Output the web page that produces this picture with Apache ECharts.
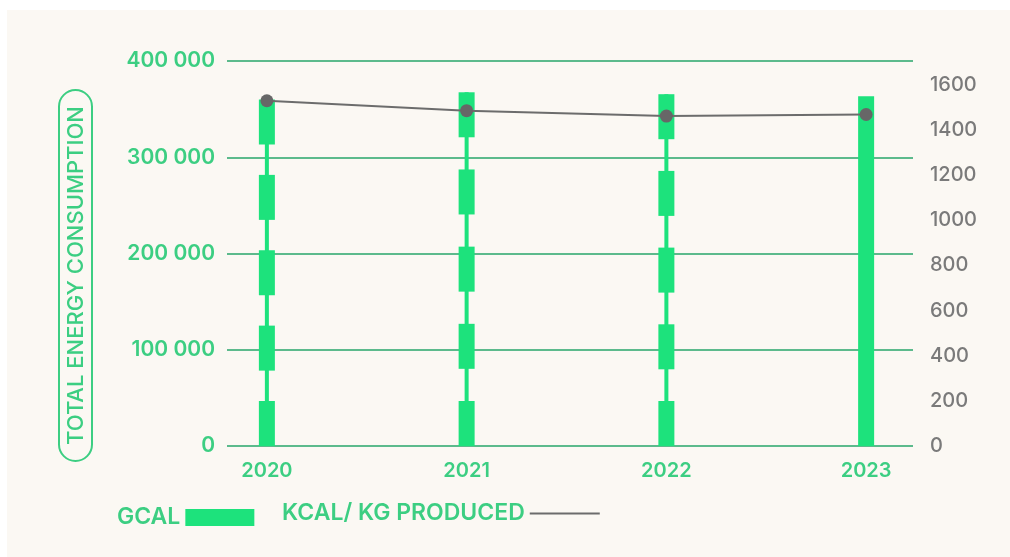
<!DOCTYPE html>
<html>
<head>
<meta charset="utf-8">
<script src="https://cdn.jsdelivr.net/npm/echarts@6/dist/echarts.min.js"></script>
<style>
  html, body { margin: 0; padding: 0; background: #ffffff; }
  #bg { position: absolute; left: 7px; top: 10px; right: 0; bottom: 0; background: #fbf8f3; }
  #chart { position: absolute; left: 0; top: 0; width: 1010px; height: 557px; }
</style>
</head>
<body>
<div id="bg"></div>
<div id="chart"></div>
<script>
// ---- data ----
const years = ['2020', '2021', '2022', '2023'];
const gcal = [360000, 367500, 365500, 363500];          // total energy consumption (GCAL)
const kcalPerKg = [1529, 1485, 1461, 1468];             // KCAL / KG produced
const dashedYears = [true, true, true, false];          // 2020-2022 drawn dashed, 2023 solid
const leftAxisTitle = 'TOTAL ENERGY CONSUMPTION';
const seriesNames = ['GCAL', 'KCAL/ KG PRODUCED'];

// ---- derived series data ----
const dashedData = gcal.map((v, i) => dashedYears[i] ? { value: v, symbolBoundingData: v } : '-');
const connectorData = gcal.map((v, i) => dashedYears[i] ? v : '-');
const solidData = gcal.map((v, i) => dashedYears[i] ? '-' : v);

const GREEN = '#1de27c';
const TEXT_GREEN = '#3cce82';
const GRID_GREEN = '#5cba8c';
const GREY = '#6c6c6c';
const FONT = 'Inter';

function spaced(v) {
  return String(v).replace(/\B(?=(\d{3})+(?!\d))/g, ' ');
}

const chart = echarts.init(document.getElementById('chart'), null, { renderer: 'canvas' });

const option = {
  backgroundColor: 'transparent',
  animation: false,
  textStyle: { fontFamily: FONT },
  grid: [
    { left: 167, right: 44, top: 61, bottom: 111 },   // series grid
    { left: 227, right: 97, top: 61, bottom: 111 },   // gridlines + value axes
    { left: 227, right: 97, top: 83, bottom: 89 }     // left axis title
  ],
  legend: [
    {
      data: [seriesNames[0]],
      left: 117, top: 506, padding: 0,
      align: 'right',
      itemWidth: 69, itemHeight: 17,
      icon: 'rect',
      textStyle: { color: TEXT_GREEN, fontSize: 23, fontWeight: 600, fontFamily: FONT },
      itemStyle: { color: GREEN }
    },
    {
      data: [{ name: seriesNames[1], icon: 'rect' }],
      left: 282, top: 502, padding: 0,
      align: 'right',
      itemWidth: 70, itemHeight: 2,
      textStyle: { color: TEXT_GREEN, fontSize: 23, fontWeight: 600, fontFamily: FONT },
      itemStyle: { color: GREY }
    }
  ],
  xAxis: [
    {
      gridIndex: 0, type: 'category', data: years, boundaryGap: true,
      axisLine: { show: false }, axisTick: { show: false }, splitLine: { show: false },
      axisLabel: { color: TEXT_GREEN, fontSize: 20, fontWeight: 600, fontFamily: FONT, margin: 15 }
    },
    { gridIndex: 1, type: 'value', min: 0, max: 1, show: false },
    { gridIndex: 2, type: 'value', min: 0, max: 1, show: false }
  ],
  yAxis: [
    { gridIndex: 0, type: 'value', min: 0, max: 400000, show: false },
    { gridIndex: 0, type: 'value', min: 0, max: 1705, show: false },
    {
      gridIndex: 1, type: 'value', position: 'left', min: 0, max: 400000, interval: 100000,
      axisLine: { show: false }, axisTick: { show: false },
      axisLabel: {
        color: TEXT_GREEN, fontSize: 21, fontWeight: 600, fontFamily: FONT, margin: 12,
        formatter: v => spaced(v)
      },
      splitLine: { show: true, lineStyle: { color: GRID_GREEN, width: 2 } }
    },
    {
      gridIndex: 1, type: 'value', position: 'right', min: 0, max: 1705, interval: 200,
      axisLine: { show: false }, axisTick: { show: false }, splitLine: { show: false },
      axisLabel: {
        color: '#7a7a7a', fontSize: 20, fontWeight: 500, fontFamily: FONT, margin: 17,
        showMaxLabel: false,
        formatter: v => (v % 200 === 0 ? String(v) : '')
      }
    },
    {
      gridIndex: 2, type: 'value', position: 'left', min: 0, max: 1,
      axisLine: { show: false }, axisTick: { show: false }, axisLabel: { show: false },
      splitLine: { show: false },
      name: leftAxisTitle,
      nameLocation: 'middle',
      nameRotate: 90,
      nameGap: 135,
      nameTextStyle: {
        color: TEXT_GREEN, fontSize: 22, fontWeight: 500, fontFamily: FONT, lineHeight: 24,
        borderColor: TEXT_GREEN, borderWidth: 2, borderRadius: 18,
        padding: [5, 16, 4, 16]
      }
    }
  ],
  series: [
    {
      name: seriesNames[0],
      type: 'bar',
      xAxisIndex: 0, yAxisIndex: 0,
      data: connectorData,
      barWidth: 4,
      itemStyle: { color: GREEN },
      z: 1
    },
    {
      name: seriesNames[0],
      type: 'pictorialBar',
      xAxisIndex: 0, yAxisIndex: 0,
      data: dashedData,
      symbol: 'rect',
      symbolSize: [16, 45],
      symbolRepeat: 5,
      symbolMargin: 0,
      itemStyle: { color: GREEN },
      z: 2
    },
    {
      name: seriesNames[0],
      type: 'pictorialBar',
      xAxisIndex: 0, yAxisIndex: 0,
      data: solidData,
      symbol: 'rect',
      symbolSize: [16, '100%'],
      itemStyle: { color: GREEN },
      z: 2
    },
    {
      name: seriesNames[1],
      type: 'line',
      xAxisIndex: 0, yAxisIndex: 1,
      data: kcalPerKg,
      symbol: 'circle',
      symbolSize: 13,
      lineStyle: { color: GREY, width: 2 },
      itemStyle: { color: '#676767' },
      z: 5
    }
  ]
};

chart.setOption(option);
</script>
</body>
</html>
